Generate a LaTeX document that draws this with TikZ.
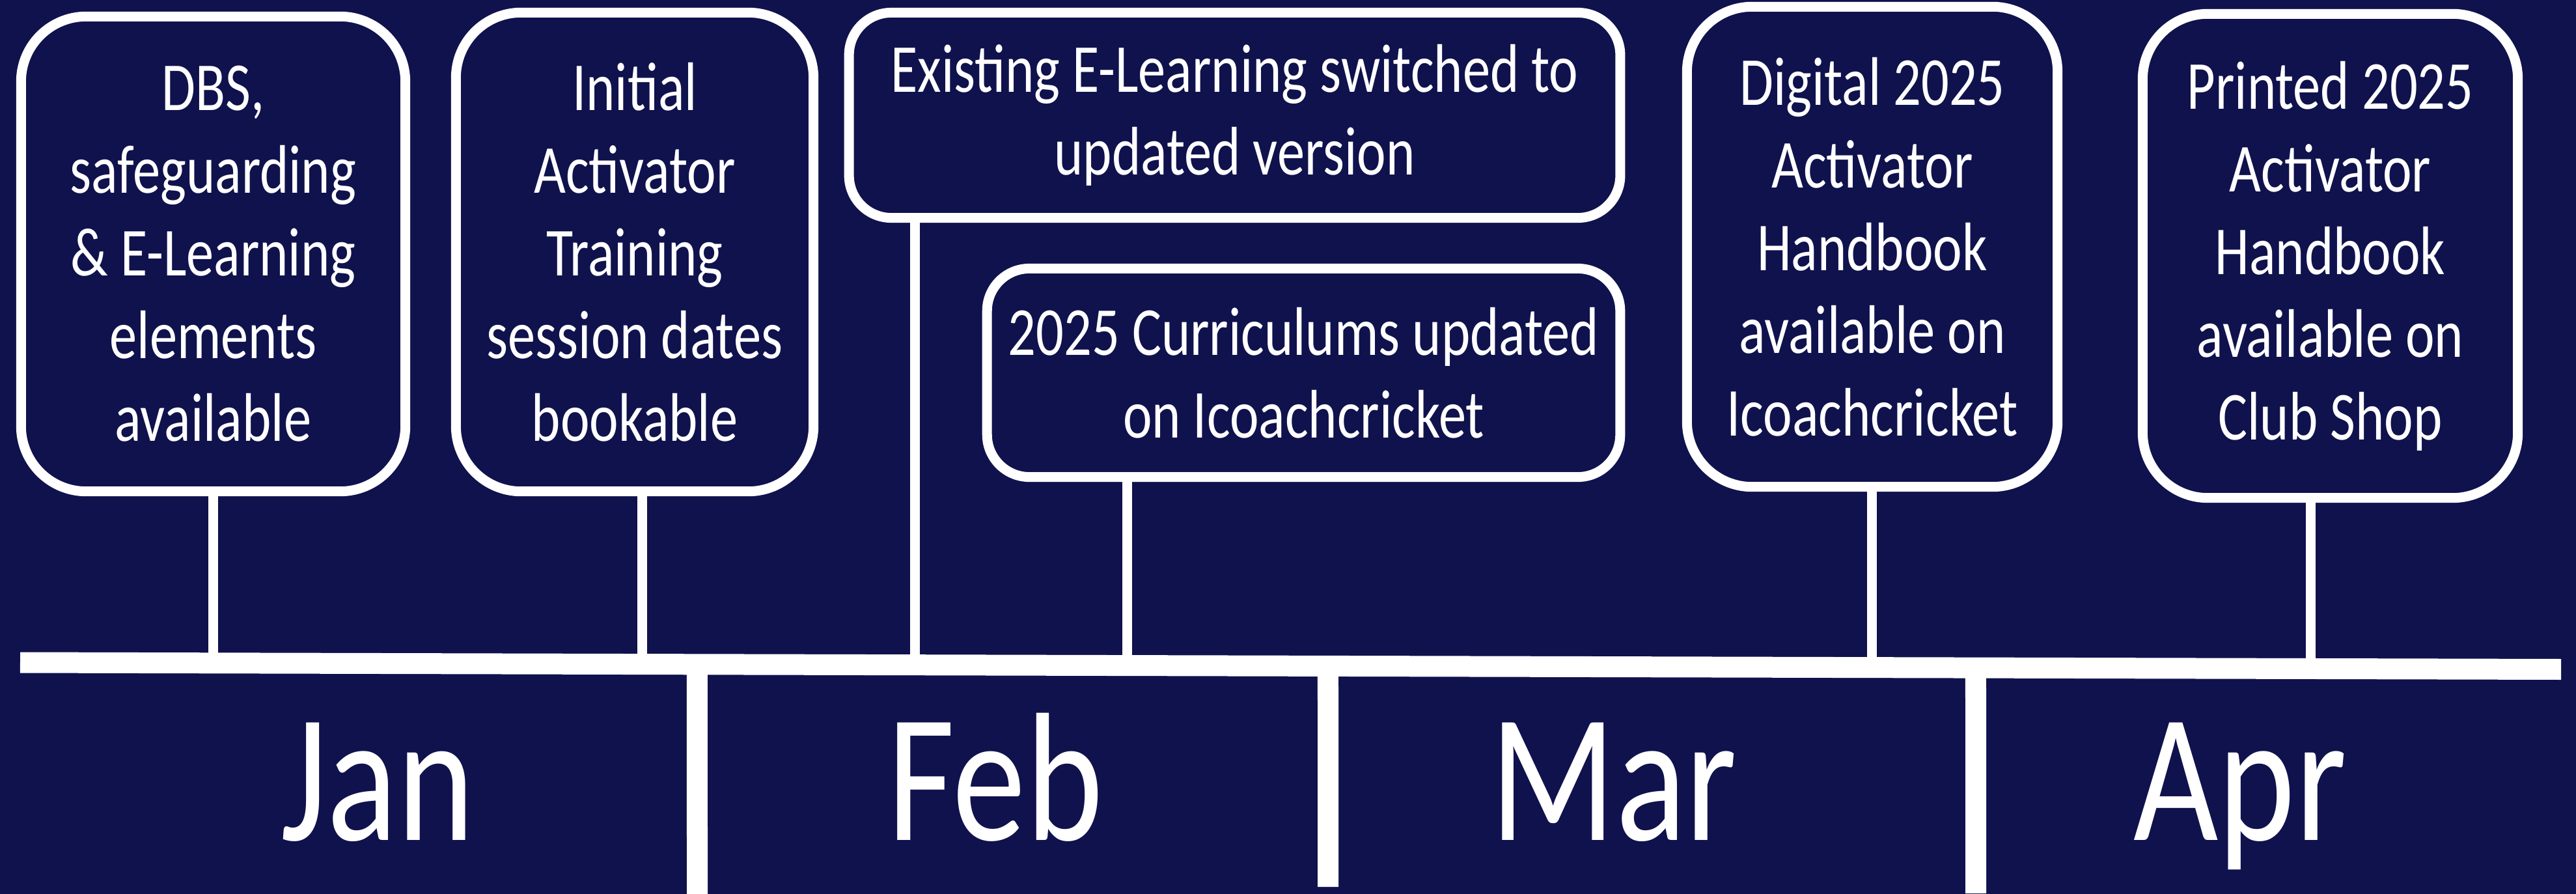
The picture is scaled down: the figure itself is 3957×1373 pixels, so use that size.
\documentclass[tikz,border=0pt]{standalone}
\usepackage{fontspec}
\setmainfont{Carlito}[FakeStretch=0.8]
\usetikzlibrary{calc}

\definecolor{navy}{RGB}{16,18,77}

\tikzset{
  card/.style={draw=white, line width=4.27pt, fill=navy, text=white,
    align=center, inner sep=0pt, rounded corners=1cm,
    font=\fontsize{30}{36.1}\selectfont},
  widecard/.style={card, rounded corners=0.65cm},
  pole/.style={draw=white, line width=4.27pt},
  divider/.style={draw=white, line width=9.1pt},
  month/.style={text=white, anchor=base, font=\fontsize{80}{96}\selectfont},
}

\begin{document}
\begin{tikzpicture}[x=0.01cm, y=-0.01cm]
  \fill[navy] (0,0) rectangle (3957,1373);
  \useasboundingbox (0,0) rectangle (3957,1373);

  % timeline
  \coordinate (barL) at (31,1017.5);
  \coordinate (barR) at (3934,1028);
  \coordinate (bottom) at (0,1373);
  \draw[white, line width=9.1pt] (barL) -- (barR);

  % month dividers
  \foreach \x/\e in {1071/1373, 2040/1362, 3035/1372}
  {
    \coordinate (div-\x) at ($(barL)!{(\x-31)/3903}!(barR)$);
    \draw[divider] (div-\x) -- (\x,\e);
  }

  % months
  \node[month] (jan) at (580,1290) {Jan};
  \node[month] (feb) at (1529,1290) {Feb};
  \node[month] (mar) at (2479,1290) {Mar};
  \node[month] (apr) at (3441,1290) {Apr};

  % events
  \node[card, minimum width=5.9cm, minimum height=7.29cm] (dbs) at (327.5,390)
    {DBS,\\ safeguarding\\ \& E-Learning\\ elements\\ available};
  \node[card, minimum width=5.49cm, minimum height=7.35cm] (initial) at (975,387)
    {Initial\\ Activator\\ Training\\ session dates\\ bookable};
  \node[widecard, minimum width=11.84cm, minimum height=3.15cm] (existing) at (1896.5,177)
    {Existing E-Learning switched to\\ updated version};
  \node[widecard, minimum width=9.72cm, minimum height=3.2cm] (curric) at (2002.5,572.5)
    {2025 Curriculums updated\\ on Icoachcricket};
  \node[card, minimum width=5.69cm, minimum height=7.37cm] (digital) at (2876,379)
    {Digital 2025\\ Activator\\ Handbook\\ available on\\ Icoachcricket};
  \node[card, minimum width=5.76cm, minimum height=7.43cm] (printed) at (3579.5,393)
    {Printed 2025\\ Activator\\ Handbook\\ available on\\ Club Shop};

  % poles down to the timeline
  \foreach \n/\x in {dbs/328, initial/987, existing/1406, curric/1732, digital/2876, printed/3549}
  {
    \coordinate (foot-\n) at ($(barL)!{(\x-31)/3903}!(barR)$);
    \draw[pole] (\n.south -| foot-\n) -- (foot-\n);
  }
\end{tikzpicture}
\end{document}
